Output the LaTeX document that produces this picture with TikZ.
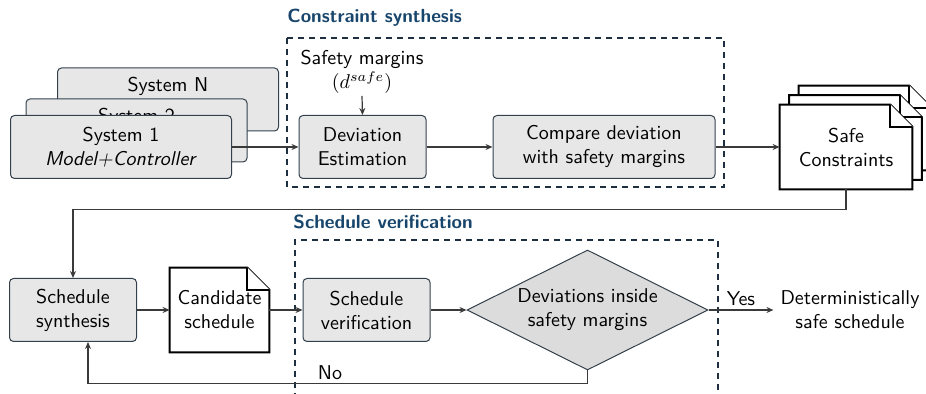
\documentclass[tikz,border=0pt]{standalone}
\usetikzlibrary{arrows.meta,shapes.geometric,positioning,backgrounds}
\renewcommand{\familydefault}{\sfdefault}

\definecolor{titleblue}{HTML}{17456B}
\definecolor{grpline}{HTML}{1E2F40}
\definecolor{blkline}{HTML}{34404C}
\definecolor{blkfill}{HTML}{E7E7E7}
\definecolor{diafill}{HTML}{DCDCDC}
\definecolor{arrline}{HTML}{3A3A3A}

\tikzset{
  blk/.style={draw=blkline, fill=blkfill, rounded corners=2pt, line width=0.5pt,
    align=center, minimum width=63.5pt, minimum height=31.5pt},
  decide/.style={diamond, draw=blkline, fill=diafill, line width=0.5pt, aspect=2,
    inner sep=0pt, minimum width=120.5pt, minimum height=60pt, align=center},
  doctext/.style={align=center, minimum width=66pt, minimum height=42pt, inner sep=0pt},
  docline/.style={draw=black, line width=1pt, fill=white, line join=miter},
  grp/.style={draw=grpline, dash pattern=on 3pt off 2.5pt, line width=0.75pt},
  grptitle/.style={text=titleblue, font=\fontsize{9.5pt}{11pt}\selectfont\bfseries,
    anchor=west, inner sep=0pt},
  flow/.style={draw=arrline, line width=0.6pt, -{Stealth[length=3.5pt,width=3pt]}},
}

% page with a folded corner, drawn round a node
\newcommand{\docpage}[1]{%
  \draw[docline] (#1.north west) -- ([xshift=-11pt]#1.north east)
    -- ([yshift=-11pt]#1.north east) -- (#1.south east) -- (#1.south west) -- cycle;
  \draw[docline] ([xshift=-11pt]#1.north east) |- ([yshift=-11pt]#1.north east);
}

\begin{document}
\begin{tikzpicture}[x=0.5pt, y=-0.5pt]
\useasboundingbox (0,0) rectangle (926,394);

% groups
\draw[grp] (287,38) rectangle (724,187);
\node[grptitle] (csTitle) at (287,18) {Constraint synthesis};
\draw[grp] (295,410) rectangle (718,240);
\node[grptitle] (svTitle) at (293,222) {Schedule verification};

% systems
\node[blk, minimum width=110.5pt] (sysN) at (168,99.5) {System N\\\strut};
\node[blk, minimum width=110.5pt] (sys2) at (136.5,130.5) {System 2\\\strut};
\node[blk, minimum width=110.5pt] (sys1) at (121,147) {System 1\\\textit{Model+Controller}};

% constraint synthesis
\node[align=center, anchor=south, inner sep=1pt] (margins) at (362,96) {Safety margins\\$(d^{safe})$};
\node[blk] (dev) at (362.5,147) {Deviation\\Estimation};
\node[blk, minimum width=111pt] (cmp) at (604,147) {Compare deviation\\with safety margins};

\node[doctext] (safeC) at (865,128) {};
\node[doctext] (safeB) at (855.5,137.5) {};
\node[doctext] (safe) at (846,147) {Safe\\Constraints};

% schedule loop
\node[blk] (synth) at (73,310) {Schedule\\synthesis};
\node[doctext, minimum width=49.5pt] (cand) at (219.5,310) {Candidate\\schedule};
\node[blk] (verif) at (366.5,310) {Schedule\\verification};
\node[decide] (dia) at (587.5,310) {Deviations inside\\safety margins};
\node[align=center] (out) at (850,310) {Deterministically\\safe schedule};
\node (no) at (330,373) {No};

\begin{scope}[on background layer]
  \docpage{safeC}
  \docpage{safeB}
  \docpage{safe}
  \docpage{cand}
\end{scope}

% connectors
\draw[flow] (sys1.east) -- (sys1.east -| dev.west);
\draw[flow] (margins.south) -- (dev.north);
\draw[flow] (dev) -- (cmp);
\draw[flow] (cmp) -- (safe);
\draw[flow] (safe.south) -- ++(0,20) -| (synth.north);
\draw[flow] (synth) -- (cand);
\draw[flow] (cand) -- (verif);
\draw[flow] (verif) -- (dia);
\draw[flow] (dia.south) -- ++(0,13) -| ([xshift=7.5pt]synth.south);
\draw[flow] (dia.east) -- node[above, inner sep=2pt] (yes) {Yes} (out.west);
\end{tikzpicture}
\end{document}
